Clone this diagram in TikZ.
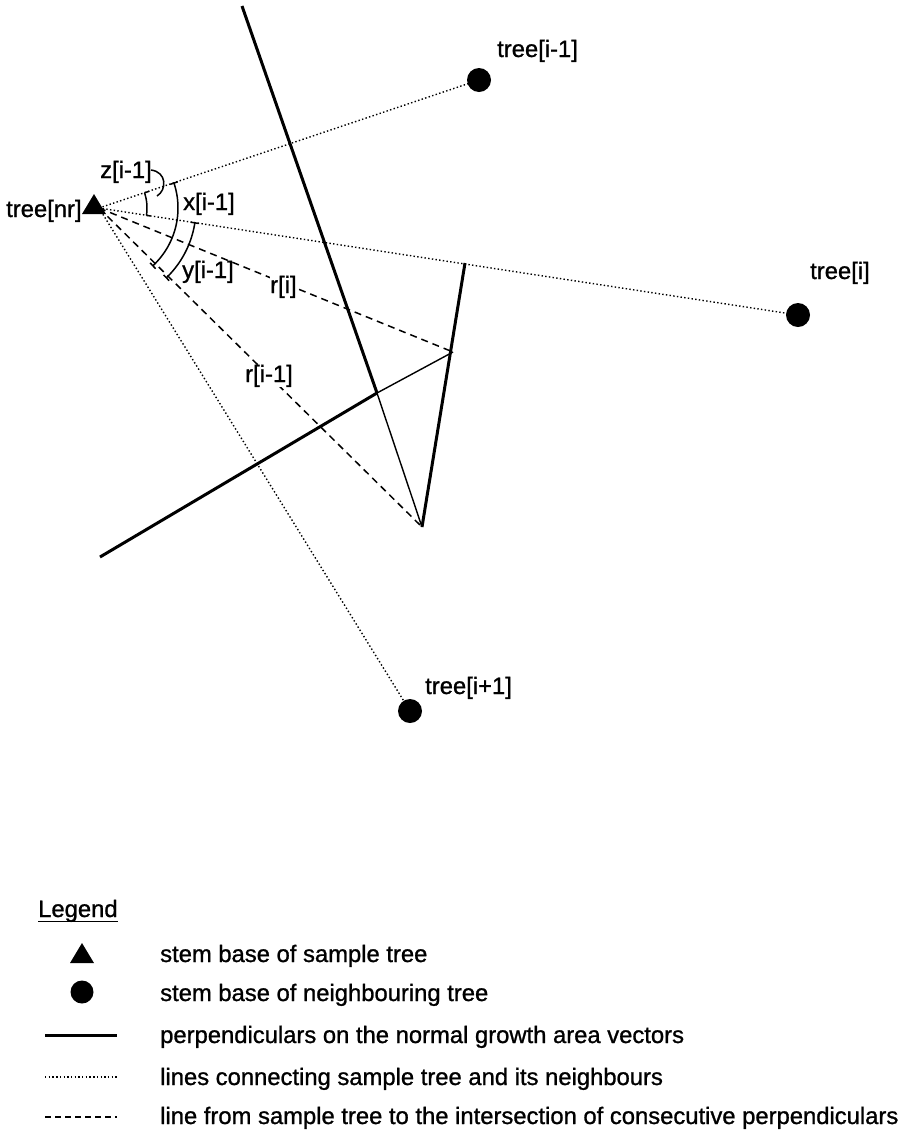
\documentclass[tikz,border=0pt]{standalone}
\usepackage{fontspec}
\setmainfont{Liberation Sans}[FakeBold=1]
\usetikzlibrary{calc}
\begin{document}
\begin{tikzpicture}[x=1pt,y=-1pt,
  lbl/.style={font=\fontsize{23.8}{28}\selectfont, inner sep=0pt, anchor=base west},
  perp/.style={line width=3pt},
  perpthin/.style={line width=1.4pt},
  conn/.style={line width=1.4pt, dash pattern=on 1.4pt off 2.3pt},
  rline/.style={line width=1.5pt, dash pattern=on 7pt off 5pt},
  angarc/.style={line width=1.5pt},
  treedot/.style={circle, fill=black, minimum size=24pt, inner sep=0pt}]
\path[use as bounding box] (0,0) rectangle (900,1136);
\fill[white] (0,0) rectangle (900,1136);

% positions
\coordinate (nr) at (99,208);
\coordinate (Atop) at (242,6);
\coordinate (P1) at (377,393);
\coordinate (P2) at (453,352);
\coordinate (P3) at (422,527);
\coordinate (Bleft) at (100,557);
\coordinate (Ctop) at (465,263);

% connecting lines (dotted)
\coordinate (c1) at (479,80);
\coordinate (c2) at (798,315);
\coordinate (c3) at (410,711);
\draw[conn] (nr) -- (c1);
\draw[conn] (nr) -- (c2);
\draw[conn] (nr) -- (c3);

% perpendiculars
\draw[perp] (Atop) -- (P1);
\draw[perpthin] (P1) -- (P3);
\draw[perp] (Bleft) -- (P1);
\draw[perpthin] (P1) -- (P2);
\draw[perp] (Ctop) -- (P3);

% dashed lines to intersections
\draw[rline] (nr) -- (P2);
\draw[rline] (nr) -- (P3);

% trees
\node[treedot] (t1) at (c1) {};
\node[treedot] (t2) at (c2) {};
\node[treedot] (t3) at (c3) {};
\fill (94,194) -- (106,214) -- (82,214) -- cycle;

% angle arcs
\draw[angarc] plot[domain=-18.4:8.8, samples=30] ({99+48*cos(\x)},{208+48*sin(\x)});
\draw[angarc] ($(nr)+(-18.4:48)$) -- ($(nr)+(-18.4:53)$);
\draw[angarc] ($(nr)+(8.8:48)$) -- ($(nr)+(8.8:52)$);
\draw[angarc] plot[domain=-18.4:47, samples=50] ({99+79*cos(\x)},{208+79*sin(\x)});
\draw[angarc] ($(nr)+(-18.4:75)$) -- ($(nr)+(-18.4:83)$);
\draw[angarc] ($(nr)+(47:75)$) -- ($(nr)+(47:83)$);
\draw[angarc] plot[domain=8.8:46, samples=40] ({99+97*cos(\x)},{208+97*sin(\x)});
\draw[angarc] ($(nr)+(8.8:93)$) -- ($(nr)+(8.8:101)$);
\draw[angarc] ($(nr)+(46:93)$) -- ($(nr)+(46:101)$);
\coordinate (zl) at (151,170);
\coordinate (zp) at (157,196);
\draw[angarc] (zl) .. controls (167,172) and (167,190) .. (zp);

% labels
\node[lbl] (lnr) at (6,217) {tree[nr]};
\node[lbl] (lz) at (100,178) {z[i-1]};
\node[lbl] (lx) at (183,210) {x[i-1]};
\node[lbl] (ly) at (182,278) {y[i-1]};
\node[lbl, fill=white] (lri) at (270,293) {r[i]};
\node[lbl, fill=white] (lri1) at (245,382) {r[i-1]};
\node[lbl] (lt1) at (497,57) {tree[i-1]};
\node[lbl] (lt2) at (810,279) {tree[i]};
\node[lbl] (lt3) at (425,694) {tree[i+1]};

% legend
\node[lbl] (leg) at (38,917) {Legend};
\draw[line width=1pt] (leg.base west) ++(0,4) -- ($(leg.base east)+(0,4)$);
\fill (82,943) -- (94,963) -- (70,963) -- cycle;
\node[treedot, minimum size=23pt] (legdot) at (82,992) {};
\coordinate (s1) at (45,1035); \coordinate (s2) at (117,1035);
\draw[perp] (s1) -- (s2);
\coordinate (d1) at (45,1077); \coordinate (d2) at (117,1077);
\draw[conn] (d1) -- (d2);
\coordinate (e1) at (45,1117); \coordinate (e2) at (117,1117);
\draw[line width=1.5pt, dash pattern=on 6pt off 4pt] (e1) -- (e2);
\node[lbl] (lg1) at (160,962) {stem base of sample tree};
\node[lbl] (lg2) at (160,1001) {stem base of neighbouring tree};
\node[lbl] (lg3) at (160,1043) {perpendiculars on the normal growth area vectors};
\node[lbl] (lg4) at (160,1085) {lines connecting sample tree and its neighbours};
\node[lbl] (lg5) at (160,1124) {line from sample tree to the intersection of consecutive perpendiculars};
\end{tikzpicture}
\end{document}
